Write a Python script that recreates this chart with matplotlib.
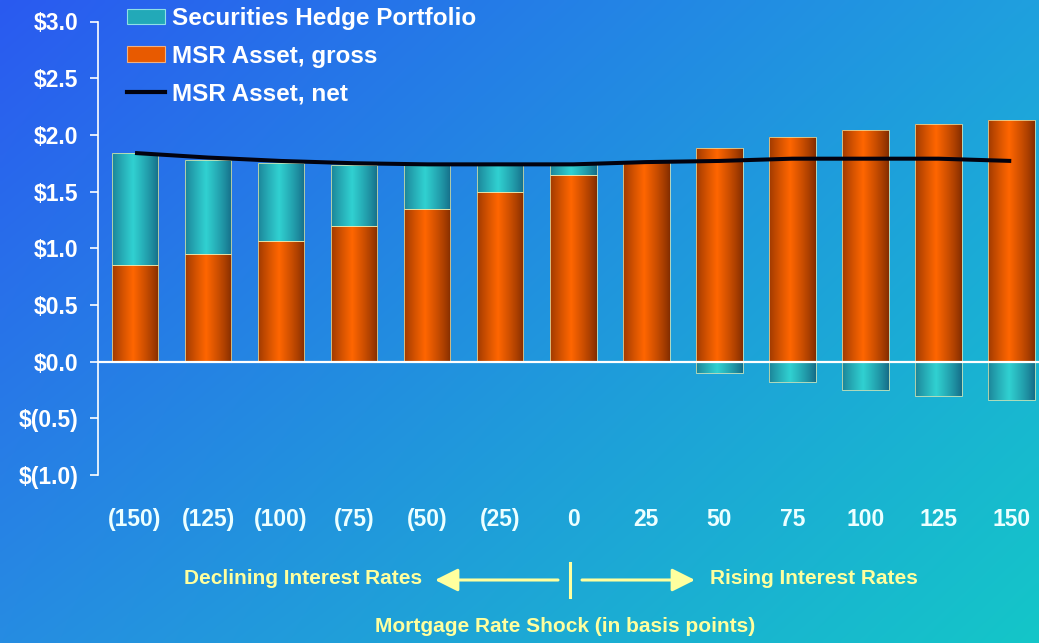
import numpy as np
import matplotlib
matplotlib.use("Agg")
import matplotlib.pyplot as plt
from matplotlib.patches import Patch, FancyArrowPatch
from matplotlib.lines import Line2D

# ---- data ($ billions) ----
shock_labels = ["(150)", "(125)", "(100)", "(75)", "(50)", "(25)", "0",
                "25", "50", "75", "100", "125", "150"]
msr_gross = [0.85, 0.95, 1.06, 1.20, 1.35, 1.50, 1.65, 1.77, 1.88, 1.98, 2.04, 2.10, 2.13]
hedge_value = [0.99, 0.83, 0.69, 0.53, 0.38, 0.23, 0.09, 0.0, -0.10, -0.18, -0.25, -0.30, -0.34]
msr_net = [1.84, 1.80, 1.77, 1.75, 1.74, 1.74, 1.74, 1.76, 1.77, 1.79, 1.79, 1.79, 1.77]
y_ticks = [-1.0, -0.5, 0.0, 0.5, 1.0, 1.5, 2.0, 2.5, 3.0]

W, H = 1039, 643
fig = plt.figure(figsize=(W / 100, H / 100), dpi=100)

# ---- diagonal blue-to-teal backdrop ----
tl = np.array([42, 90, 240]) / 255
tr = np.array([31, 160, 222]) / 255
bl = np.array([38, 140, 226]) / 255
br = np.array([20, 198, 200]) / 255
u = np.linspace(0, 1, 256)[None, :, None]
v = np.linspace(0, 1, 160)[:, None, None]
bg_img = (1 - v) * ((1 - u) * tl + u * tr) + v * ((1 - u) * bl + u * br)
bg = fig.add_axes([0, 0, 1, 1], zorder=-1)
bg.imshow(bg_img, extent=(0, 1, 0, 1), aspect="auto", interpolation="bilinear")
bg.axis("off")

ax_left, ax_right = 98 / W, 1.0
ax_bot, ax_top = 1 - 475 / H, 1 - 21.5 / H
ax = fig.add_axes([ax_left, ax_bot, ax_right - ax_left, ax_top - ax_bot])
ax.set_facecolor("none")

x = np.arange(len(shock_labels))
width = 0.64
hedge_bottom = [g if h > 0 else 0.0 for g, h in zip(msr_gross, hedge_value)]

edge = (0.90, 0.92, 0.70, 0.75)
gross_bars = ax.bar(x, msr_gross, width, facecolor="none", edgecolor=edge,
                    linewidth=0.7, zorder=2, label="MSR Asset, gross")
hedge_bars = ax.bar(x, hedge_value, width, bottom=hedge_bottom, facecolor="none",
                    edgecolor=edge, linewidth=0.7, zorder=2,
                    label="Securities Hedge Portfolio")


def cylinder_strip(dark, light, n=200):
    t = np.linspace(0, 1, n)
    w = np.clip(1 - np.abs(t - 0.45) / 0.58, 0, 1) ** 0.8
    row = (1 - w)[:, None] * np.array(dark) + w[:, None] * np.array(light)
    return row[None, :, :]


ORANGE = ((0.46, 0.15, 0.0), (1.0, 0.40, 0.0))
TEAL = ((0.07, 0.38, 0.50), (0.19, 0.82, 0.82))


def cylinder(bars, dark, light):
    img = cylinder_strip(dark, light)
    for rect in bars:
        h = rect.get_height()
        if abs(h) < 1e-9:
            rect.set_visible(False)
            continue
        x0, y0, bw = rect.get_x(), rect.get_y(), rect.get_width()
        im = ax.imshow(img, extent=(x0, x0 + bw, y0, y0 + h), aspect="auto",
                       interpolation="bilinear", zorder=1.9)
        im.set_clip_path(rect)


cylinder(gross_bars, *ORANGE)
cylinder(hedge_bars, *TEAL)

ax.axhline(0, color="white", linewidth=1.6, zorder=3)
ax.plot(x, msr_net, color="#02020f", linewidth=2.9, zorder=4,
        solid_capstyle="butt", label="MSR Asset, net")

ax.set_xlim(-0.507, 12.38)
ax.set_ylim(-1.0, 3.0)
ax.set_aspect("auto")

for s in ("top", "right", "bottom"):
    ax.spines[s].set_visible(False)
ax.spines["left"].set_color("white")
ax.spines["left"].set_linewidth(1.2)


def money(v):
    return f"\\${v:.1f}" if v >= 0 else f"\\$({abs(v):.1f})"


ax.set_yticks(y_ticks)
ax.set_yticklabels([money(v) for v in y_ticks], fontsize=16.5,
                   fontweight="bold", color="white", family="Liberation Sans")
ax.tick_params(axis="y", colors="white", length=6, width=1.2, pad=8)

ax.set_xticks(x)
ax.set_xticklabels(shock_labels, fontsize=16.5, fontweight="bold",
                   color="#ecffff", family="Liberation Sans")
ax.tick_params(axis="x", length=0, pad=24)

# ---- legend ----
handles = [
    Patch(facecolor="#22a9b8", edgecolor="#8fe0e6", linewidth=0.8),
    Patch(facecolor="#e85a00", edgecolor="#f0b080", linewidth=0.8),
    Line2D([], [], color="#02020f", linewidth=3.0),
]
labels = ["Securities Hedge Portfolio", "MSR Asset, gross", "MSR Asset, net"]
fig.legend(handles, labels, loc="upper left",
           bbox_to_anchor=(127 / W, 1 - 7 / H), bbox_transform=fig.transFigure,
           frameon=False, borderpad=0, borderaxespad=0, handlelength=1.55,
           handleheight=0.62, handletextpad=0.3, labelspacing=0.6,
           prop={"family": "Liberation Sans", "weight": "bold", "size": 17.5},
           labelcolor="white")

# ---- direction annotation below the axis ----
yellow = "#ffff9e"
fig.text(422 / W, 1 - 578 / H, "Declining Interest Rates", ha="right", va="center",
         color=yellow, fontsize=15, fontweight="bold", family="Liberation Sans")
fig.text(710 / W, 1 - 578 / H, "Rising Interest Rates", ha="left", va="center",
         color=yellow, fontsize=15, fontweight="bold", family="Liberation Sans")
fig.text(565 / W, 1 - 626 / H, "Mortgage Rate Shock (in basis points)",
         ha="center", va="center", color=yellow, fontsize=15,
         fontweight="bold", family="Liberation Sans")

arrow_style = dict(arrowstyle="-|>,head_length=1.0,head_width=0.5",
                   color=yellow, lw=2.2, shrinkA=0, shrinkB=0)
ya = 1 - 580 / H
fig.add_artist(FancyArrowPatch((558 / W, ya), (435 / W, ya),
                               transform=fig.transFigure, mutation_scale=14,
                               **arrow_style))
fig.add_artist(FancyArrowPatch((582 / W, ya), (695 / W, ya),
                               transform=fig.transFigure, mutation_scale=14,
                               **arrow_style))
fig.add_artist(Line2D([570 / W, 570 / W], [1 - 563 / H, 1 - 597 / H],
                      transform=fig.transFigure, color=yellow, linewidth=2.2))

fig.savefig("out.png", dpi=100)
